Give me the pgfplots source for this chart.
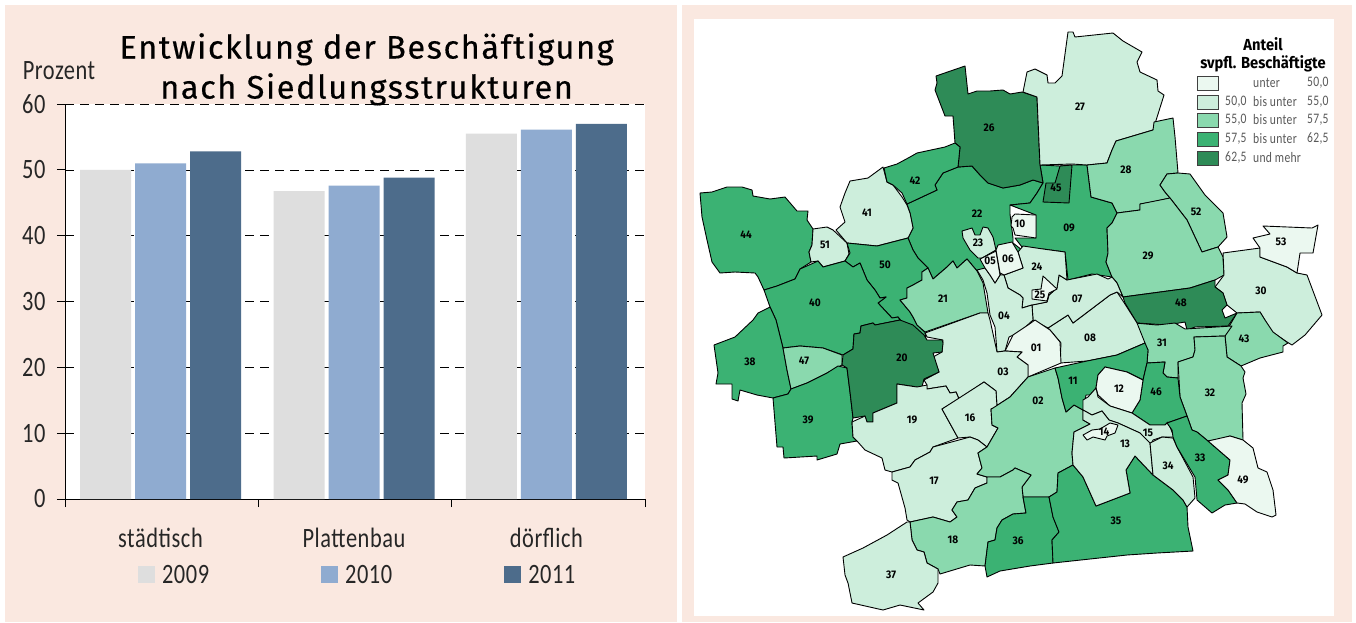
\documentclass[border=0pt]{standalone}
\usepackage{pgfplots}
\pgfplotsset{compat=1.18}
\usepackage{fontspec}
\setmainfont[FakeStretch=0.8,LetterSpace=2]{Carlito}
\newfontfamily\titlefont[LetterSpace=5,FakeBold=0.35]{Fira Sans}
\newfontfamily\labfont[FakeStretch=0.92]{Fira Sans}
\definecolor{panel}{HTML}{FAE8E0}
\definecolor{cA}{HTML}{EBF8F0}
\definecolor{cB}{HTML}{CDEEDC}
\definecolor{cC}{HTML}{8AD9AE}
\definecolor{cD}{HTML}{3BB273}
\definecolor{cE}{HTML}{2E8B57}
\definecolor{barA}{HTML}{DEDEDE}
\definecolor{barB}{HTML}{8FABD0}
\definecolor{barC}{HTML}{4D6C8B}
\newcommand\reg[2]{\addplot[draw=black,line width=0.9pt,line join=round,fill=#1,mark=none] coordinates {#2} --cycle;}
\newcommand\lbl[3]{\node[font=\fontsize{11}{11}\selectfont\bfseries\labfont,inner sep=0pt] at (axis cs:#1,#2) {#3};}
\begin{document}
\begin{tikzpicture}[x=1pt,y=1pt]
\useasboundingbox (0,0) rectangle (1356pt,622pt);
\begin{axis}[at={(0pt,0pt)},anchor=south west,scale only axis,width=1356pt,height=622pt,
  xmin=0,xmax=1356,ymin=0,ymax=622,y dir=reverse,hide axis,clip=false]
% panels
\addplot[draw=none,fill=panel,mark=none] coordinates {(5,5) (677,5) (677,622) (5,622)} --cycle;
\addplot[draw=none,fill=panel,mark=none] coordinates {(682,5) (1352,5) (1352,622) (682,622)} --cycle;
\addplot[draw=none,fill=white,mark=none] coordinates {(694,19) (1334,19) (1334,616) (694,616)} --cycle;
% base regions
\reg{cD}{(907,204)(937,190)(935,185)(943,173)(958,167)(972,166)(980,175)(988,183)(1003,188)(1020,185)(1033,180)(1043,183)(1037,193)(1030,203)(1010,205)(1010,214)(1013,238)(1013,243)(1022,250)(1012,262)(1000,275)(985,275)(977,271)(967,259)(957,268)(953,261)(947,267)(933,279)(928,268)(918,258)(913,250)(908,238)(913,228)(910,213)}
\reg{cD}{(1040,165)(1060,166)(1072,165)(1087,165)(1091,197)(1112,203)(1117,213)(1112,223)(1107,228)(1108,253)(1106,262)(1112,277)(1092,274)(1068,280)(1065,252)(1043,249)(1022,247)(1015,238)(1036,238)(1036,215)(1010,205)(1030,203)(1037,193)(1043,183)}
% north
\reg{cE}{(936,76)(965,66)(968,94)(977,91)(990,91)(1003,90)(1010,94)(1022,92)(1037,97)(1038,120)(1040,165)(1043,183)(1033,180)(1020,185)(1003,188)(988,183)(980,175)(972,166)(958,167)(960,147)(955,143)(953,116)(945,116)(940,103)(935,90)(937,83)}
\reg{cB}{(1023,92)(1027,72)(1035,69)(1047,75)(1048,83)(1055,83)(1062,76)(1068,32)(1073,32)(1075,37)(1113,33)(1123,41)(1142,52)(1137,62)(1140,72)(1157,80)(1158,91)(1164,95)(1153,130)(1116,141)(1112,150)(1107,163)(1087,165)(1072,164)(1040,165)(1038,120)(1037,97)}
\reg{cC}{(1153,130)(1154,122)(1173,118)(1175,137)(1178,173)(1167,174)(1160,185)(1165,192)(1170,198)(1153,202)(1140,204)(1140,210)(1117,213)(1112,203)(1091,197)(1087,165)(1107,163)(1112,150)(1116,141)}
\reg{cC}{(1167,174)(1178,173)(1190,174)(1205,195)(1223,213)(1227,237)(1218,247)(1202,252)(1187,220)(1170,198)(1165,192)(1160,185)}
\reg{cC}{(1117,213)(1140,210)(1140,204)(1170,198)(1187,220)(1202,252)(1218,247)(1223,257)(1224,275)(1215,280)(1190,288)(1123,297)(1117,283)(1112,277)(1106,262)(1108,253)(1107,228)(1112,223)}
\reg{cB}{(1223,253)(1260,248)(1260,257)(1287,267)(1297,273)(1307,275)(1322,315)(1305,335)(1292,345)(1287,342)(1272,332)(1260,312)(1237,313)(1227,305)(1223,293)(1215,287)(1224,275)}
\reg{cA}{(1253,238)(1270,234)(1263,226)(1312,228)(1318,225)(1313,253)(1300,253)(1297,273)(1287,267)(1260,257)(1260,248)}
\reg{cE}{(1123,297)(1190,288)(1215,280)(1215,287)(1223,293)(1227,305)(1222,310)(1225,318)(1237,313)(1228,326)(1195,327)(1187,330)(1185,322)(1167,325)(1137,323)(1125,303)}
\reg{cC}{(1227,330)(1237,313)(1260,312)(1265,320)(1273,332)(1288,343)(1283,346)(1283,352)(1260,358)(1241,366)(1227,357)(1225,335)}
\reg{cC}{(1135,323)(1157,325)(1175,323)(1185,329)(1232,326)(1225,336)(1194,337)(1195,350)(1193,357)(1178,362)(1178,378)(1167,377)(1163,373)(1165,362)(1147,363)(1148,350)(1143,342)(1138,333)}
\reg{cC}{(1194,337)(1225,336)(1227,357)(1241,366)(1245,372)(1243,378)(1246,394)(1242,403)(1243,440)(1230,436)(1220,439)(1208,441)(1197,432)(1192,430)(1187,416)(1180,397)(1178,362)(1193,357)(1195,350)}
% centre
\reg{cB}{(1061,343)(1050,330)(1048,328)(1068,315)(1073,323)(1110,295)(1117,292)(1123,301)(1137,323)(1145,343)(1117,355)(1087,361)(1060,363)}
\reg{cB}{(1032,305)(1047,302)(1049,295)(1057,288)(1059,275)(1067,280)(1097,274)(1108,279)(1112,277)(1117,283)(1123,297)(1117,292)(1110,295)(1073,323)(1068,315)(1048,328)(1033,320)}
\reg{cB}{(1004,275)(1023,268)(1018,252)(1023,246)(1043,249)(1065,252)(1067,280)(1059,275)(1057,288)(1049,295)(1047,302)(1032,305)(1022,308)(1023,298)(1020,295)(1008,288)}
\reg{cA}{(1032,290)(1041,289)(1043,276)(1057,289)(1049,293)(1047,301)(1032,299)}
\reg{cB}{(977,270)(985,268)(990,275)(995,283)(1000,275)(1004,275)(1008,288)(1020,295)(1023,298)(1022,308)(1032,305)(1033,320)(1020,332)(1009,337)(1005,351)(997,352)(995,327)(990,315)(987,293)(983,280)}
\reg{cB}{(962,231)(972,228)(975,235)(980,235)(983,227)(988,228)(993,237)(996,250)(982,258)(978,258)(970,250)(963,238)}
\reg{cA}{(980,259)(996,251)(1000,275)(995,283)(990,275)(985,268)}
\reg{cA}{(996,250)(998,245)(1012,242)(1018,252)(1023,268)(1004,275)(1000,273)}
\reg{cA}{(1015,214)(1036,215)(1036,238)(1015,235)(1013,228)(1011,226)(1012,217)}
\reg{cE}{(1060,166)(1072,165)(1069,203)(1043,202)(1046,183)(1055,183)}
\reg{cA}{(1005,351)(1013,335)(1028,325)(1035,320)(1050,330)(1060,342)(1061,363)(1028,377)(1028,365)(1017,357)(1022,352)}
% west
\reg{cD}{(700,193)(712,192)(727,187)(742,187)(752,190)(753,196)(770,199)(785,197)(797,211)(808,211)(807,220)(813,229)(812,245)(809,252)(811,262)(800,269)(795,279)(777,286)(764,290)(758,277)(755,273)(735,272)(720,273)(712,262)(707,240)(702,217)}
\reg{cB}{(813,229)(827,227)(833,230)(847,243)(849,254)(845,261)(823,267)(818,261)(811,262)(809,252)(812,245)}
\reg{cB}{(836,230)(845,222)(840,207)(845,193)(850,181)(868,178)(883,167)(887,182)(893,185)(902,197)(907,205)(910,213)(913,228)(908,238)(877,246)(847,243)}
\reg{cD}{(884,168)(897,164)(910,157)(917,153)(945,147)(955,143)(960,147)(958,167)(943,173)(935,185)(937,190)(907,204)(902,193)(893,185)(887,182)}
\reg{cD}{(847,243)(877,246)(908,238)(913,250)(918,258)(928,268)(922,272)(922,280)(913,285)(907,288)(907,298)(900,300)(910,312)(913,317)(917,325)(925,332)(926,340)(910,325)(903,323)(898,317)(892,318)(878,303)(886,297)(880,298)(875,290)(867,280)(860,263)(853,267)(845,261)(850,253)}
\reg{cC}{(907,288)(913,285)(922,280)(922,272)(928,268)(933,279)(947,267)(953,261)(957,268)(967,259)(977,271)(983,283)(988,313)(980,313)(925,332)(917,325)(913,317)(910,312)(900,300)(907,298)}
\reg{cD}{(764,290)(777,286)(795,279)(800,269)(818,261)(823,267)(845,261)(853,267)(860,263)(867,280)(875,290)(880,298)(886,297)(878,303)(892,318)(898,317)(900,320)(875,325)(873,323)(861,326)(860,333)(854,334)(853,349)(843,355)(823,348)(800,346)(783,348)(776,320)(770,307)}
\reg{cD}{(714,345)(735,337)(753,320)(758,313)(770,307)(776,320)(783,348)(787,370)(791,389)(788,394)(773,398)(757,395)(740,390)(738,401)(732,399)(732,384)(716,384)(718,373)}
\reg{cC}{(783,348)(800,346)(823,348)(842,355)(842,365)(827,373)(807,383)(791,389)(787,370)}
\reg{cD}{(773,398)(788,394)(791,389)(807,383)(827,373)(838,366)(847,368)(850,392)(853,418)(852,422)(853,437)(857,441)(840,444)(837,454)(817,460)(817,456)(784,458)(783,447)(777,447)}
\reg{cB}{(925,333)(980,313)(988,313)(990,320)(997,352)(1005,351)(1022,352)(1017,357)(1028,365)(1028,377)(1010,397)(993,408)(997,407)(996,391)(984,382)(959,399)(956,392)(950,393)(946,386)(927,389)(927,385)(924,380)(939,372)(933,357)(942,352)(943,340)(927,337)}
\reg{cE}{(843,355)(853,349)(854,334)(860,333)(861,326)(873,323)(875,325)(900,320)(913,325)(924,335)(927,340)(942,340)(943,343)(942,352)(933,353)(939,372)(924,379)(922,387)(917,387)(897,384)(897,403)(873,413)(873,422)(867,422)(865,416)(853,418)(850,392)(847,368)(842,365)}
\reg{cB}{(852,422)(865,416)(867,422)(873,422)(873,413)(897,403)(897,384)(917,387)(927,385)(927,389)(946,386)(950,393)(956,392)(959,399)(942,409)(958,438)(933,447)(930,452)(915,460)(910,467)(892,472)(885,470)(882,458)(865,450)(857,441)(853,437)}
\reg{cB}{(942,409)(984,382)(996,391)(997,407)(991,409)(992,425)(998,428)(987,447)(978,440)(970,437)(958,438)}
\reg{cB}{(892,472)(910,467)(915,460)(930,452)(933,447)(970,437)(978,440)(987,447)(978,453)(982,468)(977,474)(987,477)(987,483)(975,488)(968,500)(957,502)(952,510)(957,517)(950,522)(933,517)(910,522)(907,520)(905,508)(898,483)(892,480)}
% south
\reg{cC}{(1055,368)(1058,378)(1062,398)(1066,412)(1074,405)(1083,410)(1083,420)(1090,424)(1074,432)(1072,453)(1073,465)(1058,473)(1057,492)(1049,497)(1023,497)(1022,487)(1031,475)(1015,468)(1013,470)(1000,477)(987,477)(977,474)(982,468)(978,453)(987,447)(998,428)(992,425)(991,409)(993,408)(1010,397)(1028,377)}
\reg{cC}{(910,522)(933,517)(950,522)(957,517)(952,510)(957,502)(968,500)(975,488)(987,483)(987,477)(1000,477)(1013,470)(1015,468)(1031,475)(1022,487)(1023,497)(1026,513)(1013,514)(1002,520)(997,528)(995,540)(988,542)(985,566)(970,565)(940,574)(938,569)(927,563)(924,552)(917,550)(912,540)}
\reg{cD}{(1023,497)(1049,497)(1053,517)(1059,532)(1052,540)(1053,563)(1030,566)(1000,571)(987,577)(985,566)(988,542)(995,540)(997,528)(1002,520)(1013,514)(1026,513)}
\reg{cB}{(843,557)(863,548)(887,535)(907,522)(910,522)(912,540)(917,550)(924,552)(927,563)(938,569)(938,583)(933,592)(918,603)(924,610)(900,605)(883,610)(852,603)(848,583)(845,575)}
\reg{cD}{(1073,465)(1083,477)(1096,506)(1130,493)(1126,470)(1135,456)(1153,475)(1173,490)(1183,500)(1187,507)(1188,527)(1193,551)(1157,553)(1127,555)(1053,563)(1052,540)(1059,532)(1053,517)(1049,497)(1057,492)(1058,473)}
\reg{cD}{(1055,368)(1087,361)(1117,355)(1145,343)(1148,350)(1147,363)(1143,380)(1127,372)(1105,367)(1098,375)(1096,388)(1090,395)(1086,395)(1083,410)(1074,405)(1066,412)(1062,398)(1058,378)}
\reg{cD}{(1147,363)(1165,362)(1163,373)(1167,377)(1178,378)(1180,397)(1187,416)(1167,423)(1165,425)(1150,425)(1132,413)(1140,400)(1143,380)}
\reg{cA}{(1105,367)(1127,372)(1143,380)(1140,400)(1132,413)(1110,406)(1098,395)(1096,388)(1098,375)}
\reg{cB}{(1096,388)(1098,397)(1110,406)(1132,413)(1150,425)(1165,425)(1168,422)(1174,437)(1162,437)(1153,440)(1150,446)(1140,433)(1118,423)(1109,420)(1102,411)(1092,415)(1083,410)(1083,400)(1088,397)}
\reg{cB}{(1083,410)(1092,415)(1102,411)(1109,420)(1118,423)(1140,433)(1150,443)(1153,475)(1135,456)(1126,470)(1130,493)(1096,506)(1083,477)(1073,465)(1072,453)(1074,432)(1090,424)(1083,420)}
\reg{cA}{(1083,435)(1092,430)(1100,429)(1110,423)(1118,425)(1115,433)(1107,436)(1105,440)(1093,437)(1087,440)}
\reg{cB}{(1150,443)(1162,437)(1173,438)(1177,447)(1193,477)(1195,498)(1187,507)(1183,500)(1173,490)(1153,475)}
\reg{cD}{(1167,423)(1187,416)(1192,430)(1197,432)(1208,441)(1230,460)(1228,475)(1218,480)(1228,490)(1237,503)(1225,505)(1212,513)(1197,500)(1195,477)(1177,447)(1173,437)(1172,430)}
\reg{cA}{(1208,441)(1230,436)(1243,440)(1253,448)(1258,468)(1267,472)(1273,490)(1276,515)(1272,517)(1257,512)(1245,504)(1237,503)(1228,490)(1218,480)(1228,475)(1230,460)}
% labels
\lbl{989}{128}{26}\lbl{1080}{107}{27}\lbl{1126}{170}{28}\lbl{1196}{212}{52}\lbl{1148}{256}{29}
\lbl{1181}{303}{48}\lbl{1261}{291}{30}\lbl{1281}{242}{53}\lbl{1244}{339}{43}\lbl{1162}{343}{31}
\lbl{1210}{393}{32}\lbl{1156}{392}{46}\lbl{1073}{381}{11}\lbl{1119}{389}{12}\lbl{1148}{433}{15}
\lbl{1125}{444}{13}\lbl{1104}{432}{14}\lbl{1168}{466}{34}\lbl{1200}{458}{33}\lbl{1243}{480}{49}
\lbl{1116}{521}{35}\lbl{1018}{541}{36}\lbl{1038}{401}{02}\lbl{953}{540}{18}\lbl{891}{575}{37}
\lbl{934}{481}{17}\lbl{912}{420}{19}\lbl{970}{418}{16}\lbl{1003}{372}{03}\lbl{902}{358}{20}
\lbl{804}{361}{47}\lbl{808}{420}{39}\lbl{750}{362}{38}\lbl{815}{303}{40}\lbl{885}{265}{50}
\lbl{943}{299}{21}\lbl{746}{235}{44}\lbl{825}{245}{51}\lbl{867}{213}{41}\lbl{915}{181}{42}
\lbl{977}{214}{22}\lbl{978}{243}{23}\lbl{990}{261}{05}\lbl{1008}{259}{06}\lbl{1020}{224}{10}
\lbl{1069}{228}{09}\lbl{1037}{267}{24}\lbl{1040}{295}{25}\lbl{1077}{299}{07}\lbl{1004}{316}{04}
\lbl{1036}{348}{01}\lbl{1090}{338}{08}\lbl{1056}{188}{45}
% map legend
\node[font=\fontsize{16}{18}\selectfont\bfseries\labfont,align=center,inner sep=0pt] at (axis cs:1263,55) {Anteil\\svpfl. Beschäftigte};
\addplot[draw=black!75,line width=0.8pt,fill=cA,mark=none] coordinates {(1197,76)(1218,76)(1218,90)(1197,90)} --cycle;
\addplot[draw=black!75,line width=0.8pt,fill=cB,mark=none] coordinates {(1197,95)(1218,95)(1218,109)(1197,109)} --cycle;
\addplot[draw=black!75,line width=0.8pt,fill=cC,mark=none] coordinates {(1197,113)(1218,113)(1218,127)(1197,127)} --cycle;
\addplot[draw=black!75,line width=0.8pt,fill=cD,mark=none] coordinates {(1197,132)(1218,132)(1218,146)(1197,146)} --cycle;
\addplot[draw=black!75,line width=0.8pt,fill=cE,mark=none] coordinates {(1197,151)(1218,151)(1218,165)(1197,165)} --cycle;
\newcommand\lt[3]{\node[font=\fontsize{14.5}{15}\selectfont,text=black!65,inner sep=0pt,anchor=west] at (axis cs:#1,#2) {#3};}
\lt{1253}{83}{unter}\lt{1307}{83}{50,0}
\lt{1225}{102}{50,0}\lt{1253}{102}{bis unter}\lt{1307}{102}{55,0}
\lt{1225}{120}{55,0}\lt{1253}{120}{bis unter}\lt{1307}{120}{57,5}
\lt{1225}{139}{57,5}\lt{1253}{139}{bis unter}\lt{1307}{139}{62,5}
\lt{1225}{158}{62,5}\lt{1253}{158}{und mehr}
\end{axis}
\begin{axis}[at={(65pt,123pt)},anchor=south west,scale only axis,width=580pt,height=395pt,
  axis background/.style={fill=white},
  xmin=0,xmax=3,ymin=0,ymax=60,
  axis x line=bottom,axis y line=left,
  axis line style={-,black,line width=0.7pt},
  ytick={0,10,...,60},
  xtick={0,1,2,3},xticklabels={},
  extra x ticks={0.494,1.495,2.49},
  extra x tick labels={städtisch,Plattenbau,dörflich},
  extra x tick style={major tick length=0pt,grid=none,xticklabel style={yshift=-26pt}},
  tick align=outside,major tick length=8pt,
  tick style={black,line width=0.7pt},
  ymajorgrids,
  major grid style={black,line width=0.6pt,dash pattern=on 9pt off 6pt},
  axis on top=false,
  ybar=4pt,bar width=51pt,
  every tick label/.append style={font=\fontsize{28}{28}\selectfont,text=black!85},
  yticklabel style={xshift=-8pt},
  /pgf/number format/assume math mode=true,
  ylabel={Prozent},
  ylabel style={rotate=-90,at={(axis description cs:-0.0103,1.0835)},anchor=center,font=\fontsize{28}{28}\selectfont,text=black!85},
  title={Entwicklung der Beschäftigung\\nach Siedlungsstrukturen},
  title style={at={(axis description cs:0.52,1.0)},anchor=south,align=center,yshift=-11pt,font=\fontsize{32.5}{40}\selectfont\titlefont},
  legend columns=3,
  legend cell align=left,
  legend style={at={(axis description cs:0.126,-0.192)},anchor=west,draw=none,fill=none,inner sep=0pt,outer sep=0pt,
    nodes={inner sep=0pt,font=\fontsize{28}{28}\selectfont,text=black!85},
    /tikz/column 1/.style={column sep=7pt},/tikz/column 2/.style={column sep=112pt},
    /tikz/column 3/.style={column sep=7pt},/tikz/column 4/.style={column sep=112pt},
    /tikz/column 5/.style={column sep=7pt}},
  legend image code/.code={\fill[#1] (0pt,-8.5pt) rectangle (17pt,8.5pt);},
]
\addplot[draw=none,fill=barA] coordinates {(0.494,50.0)(1.495,46.75)(2.49,55.5)};
\addplot[draw=none,fill=barB] coordinates {(0.494,51.0)(1.495,47.6)(2.49,56.1)};
\addplot[draw=none,fill=barC] coordinates {(0.494,52.8)(1.495,48.8)(2.49,57.0)};
\legend{2009,2010,2011}
\end{axis}
\end{tikzpicture}
\end{document}
